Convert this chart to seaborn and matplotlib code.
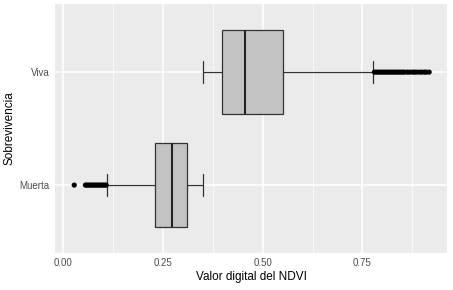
import pandas as pd
import matplotlib.pyplot as plt
import seaborn as sns

# --- données ---
categorias = ['Viva', 'Muerta']
# resumen de cinco números: bigote inf, Q1, mediana, Q3, bigote sup
viva_resumen = [0.350, 0.397, 0.457, 0.550, 0.776]
muerta_resumen = [0.110, 0.230, 0.273, 0.310, 0.350]
# valores atípicos
viva_atipicos = [0.780, 0.785, 0.790, 0.795, 0.800, 0.805, 0.810, 0.815, 0.820,
                 0.825, 0.830, 0.835, 0.840, 0.845, 0.850, 0.855, 0.862, 0.868,
                 0.875, 0.880, 0.885, 0.892, 0.898, 0.905, 0.910, 0.917]
muerta_atipicos = [0.028, 0.056, 0.060, 0.064, 0.068, 0.072, 0.076, 0.080, 0.084,
                   0.088, 0.092, 0.096, 0.100, 0.104, 0.108]
x_ticks = [0.00, 0.25, 0.50, 0.75]
x_tick_labels = ['0.00', '0.25', '0.50', '0.75']

df_box = pd.DataFrame({
    'Sobrevivencia': ['Viva'] * len(viva_resumen) + ['Muerta'] * len(muerta_resumen),
    'NDVI': viva_resumen + muerta_resumen,
})
df_out = pd.DataFrame({
    'Sobrevivencia': ['Viva'] * len(viva_atipicos) + ['Muerta'] * len(muerta_atipicos),
    'NDVI': viva_atipicos + muerta_atipicos,
})

sns.set_theme(style='darkgrid', rc={
    'axes.facecolor': '#EBEBEB',
    'grid.color': 'white',
})
plt.rcParams['font.family'] = ['Liberation Sans', 'DejaVu Sans']

fig, ax = plt.subplots(figsize=(4.53, 2.90), dpi=100)

sns.boxplot(data=df_box, x='NDVI', y='Sobrevivencia', order=categorias,
            whis=(0, 100), width=0.75, color='#C3C3C3', saturation=1,
            linecolor='#333333', linewidth=0.9, showfliers=False,
            medianprops={'color': '#222222', 'linewidth': 1.5},
            ax=ax)

sns.scatterplot(data=df_out, x='NDVI', y='Sobrevivencia', color='black',
                s=14, edgecolor='none', ax=ax, zorder=5)

# ajustar el ancho de los topes de los bigotes
for line in ax.lines:
    ys = line.get_ydata()
    xs = line.get_xdata()
    if len(xs) == 2 and xs[0] == xs[1] and abs(ys[1] - ys[0]) < 0.5:
        c = (ys[0] + ys[1]) / 2
        line.set_ydata([c - 0.1, c + 0.1])
        line.set_color('#333333')

ax.set_xlim(-0.0195, 0.962)
ax.set_ylim(1.6, -0.6)
ax.set_xticks(x_ticks)
ax.set_xticklabels(x_tick_labels)
ax.set_xticks([0.125, 0.375, 0.625, 0.875], minor=True)
ax.grid(True, which='major', color='white', linewidth=1.1)
ax.grid(True, which='minor', axis='x', color='white', linewidth=0.5)
for s in ax.spines.values():
    s.set_visible(False)
ax.tick_params(axis='both', which='major', colors='#4D4D4D', labelsize=7,
               length=2.5, width=0.6, pad=1.5, labelcolor='#4D4D4D')
ax.tick_params(axis='x', which='minor', length=0)
ax.set_xlabel('Valor digital del NDVI', fontsize=8.5, color='black', labelpad=2)
ax.set_ylabel('Sobrevivencia', fontsize=8.5, color='black', labelpad=3)

plt.subplots_adjust(left=0.122, right=0.987, top=0.985, bottom=0.128)
plt.savefig('out.png', dpi=100)
